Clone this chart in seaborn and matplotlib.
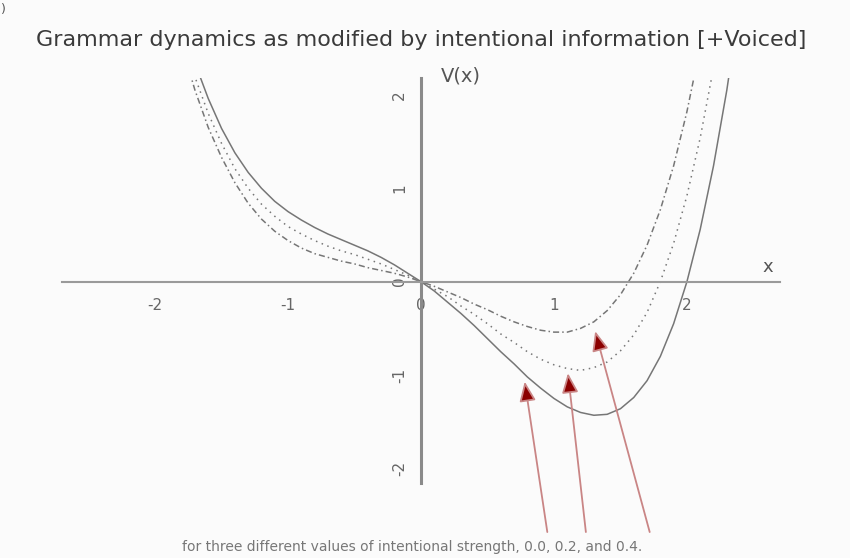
import matplotlib
matplotlib.use("Agg")
import matplotlib.pyplot as plt
import seaborn as sns
import pandas as pd

# Sample positions along x
x_vals = [-1.8, -1.7, -1.6, -1.5, -1.4, -1.3, -1.2, -1.1, -1.0, -0.9, -0.8,
          -0.7, -0.6, -0.5, -0.4, -0.3, -0.2, -0.1, 0.0, 0.1, 0.2, 0.3, 0.4,
          0.5, 0.6, 0.7, 0.8, 0.9, 1.0, 1.1, 1.2, 1.3, 1.4, 1.5, 1.6, 1.7,
          1.8, 1.9, 2.0, 2.1, 2.2, 2.3, 2.4]

# Potential V(x) for intentional strength 0.0
v_strength_00 = [2.80, 2.34, 1.96, 1.64, 1.38, 1.17, 1.00, 0.86, 0.75, 0.66, 0.58,
                 0.51, 0.45, 0.39, 0.33, 0.26, 0.18, 0.09, 0.00, -0.10, -0.22, -0.34, -0.47,
                 -0.61, -0.75, -0.88, -1.02, -1.14, -1.25, -1.34, -1.40, -1.43, -1.42, -1.36, -1.24, -1.06,
                 -0.80, -0.45, 0.00, 0.56, 1.24, 2.05, 3.01]

# Potential V(x) for intentional strength 0.2
v_strength_02 = [2.66, 2.19, 1.80, 1.48, 1.21, 1.00, 0.83, 0.70, 0.59, 0.51, 0.44,
                 0.38, 0.33, 0.29, 0.24, 0.19, 0.13, 0.07, 0.00, -0.08, -0.16, -0.26, -0.35,
                 -0.45, -0.56, -0.65, -0.75, -0.83, -0.89, -0.93, -0.95, -0.92, -0.86, -0.74, -0.57, -0.33,
                 0.00, 0.41, 0.92, 1.54, 2.29, 3.18, 4.21]

# Potential V(x) for intentional strength 0.4
v_strength_04 = [2.53, 2.05, 1.65, 1.33, 1.06, 0.84, 0.67, 0.54, 0.44, 0.36, 0.30,
                 0.26, 0.22, 0.19, 0.15, 0.12, 0.09, 0.05, 0.00, -0.05, -0.11, -0.17, -0.24,
                 -0.30, -0.37, -0.43, -0.48, -0.52, -0.54, -0.54, -0.50, -0.43, -0.31, -0.14, 0.09, 0.39,
                 0.77, 1.24, 1.82, 2.51, 3.33, 4.28, 5.39]

strength_labels = ["0.0", "0.2", "0.4"]
tick_values = [-2, -1, 0, 1, 2]

# Arrow tips (on the curves) and tails (down by the caption), in data units
arrow_tips = [(0.78, -1.07), (1.105, -0.98), (1.31, -0.53)]
arrow_tails = [(0.95, -2.68), (1.24, -2.68), (1.72, -2.68)]

df = pd.DataFrame({
    "x": x_vals * 3,
    "V": v_strength_00 + v_strength_02 + v_strength_04,
    "strength": [s for s in strength_labels for _ in x_vals],
})

sns.set_style("white")
plt.rcParams["font.family"] = ["DejaVu Sans"]

W, H = 850, 558
fig = plt.figure(figsize=(W / 100, H / 100), dpi=100)
fig.patch.set_facecolor("#fbfbfb")
ax = fig.add_axes([62 / W, 1 - 483 / H, 718 / W, 405 / H])
ax.set_facecolor("#fbfbfb")

line_grey = "#767676"
sns.lineplot(
    data=df, x="x", y="V", style="strength", style_order=strength_labels,
    dashes={"0.0": "", "0.2": (1, 3), "0.4": (4, 2, 1, 2)},
    color=line_grey, linewidth=1.1, legend=False, sort=False, ax=ax,
)

ax.set_xlim(-2.70, 2.70)
ax.set_ylim(-2.155, 2.18)

# Axes crossing at the origin
for side in ("top", "right"):
    ax.spines[side].set_visible(False)
ax.spines["left"].set_position(("data", 0))
ax.spines["bottom"].set_position(("data", 0))
ax.spines["left"].set_color("#8a8a8a")
ax.spines["left"].set_linewidth(2.2)
ax.spines["bottom"].set_color("#9a9a9a")
ax.spines["bottom"].set_linewidth(1.5)

ax.set_xticks(tick_values)
ax.set_yticks(tick_values)
ax.set_xticklabels([str(v) for v in tick_values])
ax.set_yticklabels([str(v) for v in tick_values])
ax.tick_params(axis="x", direction="out", length=6.5, width=1.0, color="#8a8a8a",
               pad=5, labelsize=11, labelcolor="#666666")
ax.tick_params(axis="y", direction="out", length=7, width=1.0, color="#8a8a8a",
               pad=3, labelsize=11, labelcolor="#666666", labelrotation=90)
for lab in ax.get_yticklabels():
    lab.set_va("center")
ax.set_xlabel("")
ax.set_ylabel("")

# Axis names
ax.text(0.30, 2.2, "V(x)", fontsize=14, color="#555555", ha="center", va="center",
        transform=ax.transData, clip_on=False)
ax.text(2.61, 0.16, "x", fontsize=13, color="#555555", ha="center", va="center")

# Arrows pointing at each curve
for tip, tail in zip(arrow_tips, arrow_tails):
    ax.annotate(
        "", xy=tip, xytext=tail, annotation_clip=False,
        arrowprops=dict(arrowstyle="-|>,head_length=1.2,head_width=0.5",
                        edgecolor="#c98585", facecolor="#8b0000", linewidth=1.3,
                        shrinkA=0, shrinkB=0, mutation_scale=10),
    )

fig.text(421 / W, 1 - 40 / H,
         "Grammar dynamics as modified by intentional information [+Voiced]",
         fontsize=16, color="#3a3a3a", ha="center", va="center")
fig.text(412 / W, 1 - 547 / H,
         "for three different values of intentional strength, 0.0, 0.2, and 0.4.",
         fontsize=10, color="#777777", ha="center", va="center")
fig.text(1 / W, 1 - 9 / H, ")", fontsize=9, color="#555555", ha="left", va="center")

fig.savefig("out.png", dpi=100, facecolor=fig.get_facecolor())
